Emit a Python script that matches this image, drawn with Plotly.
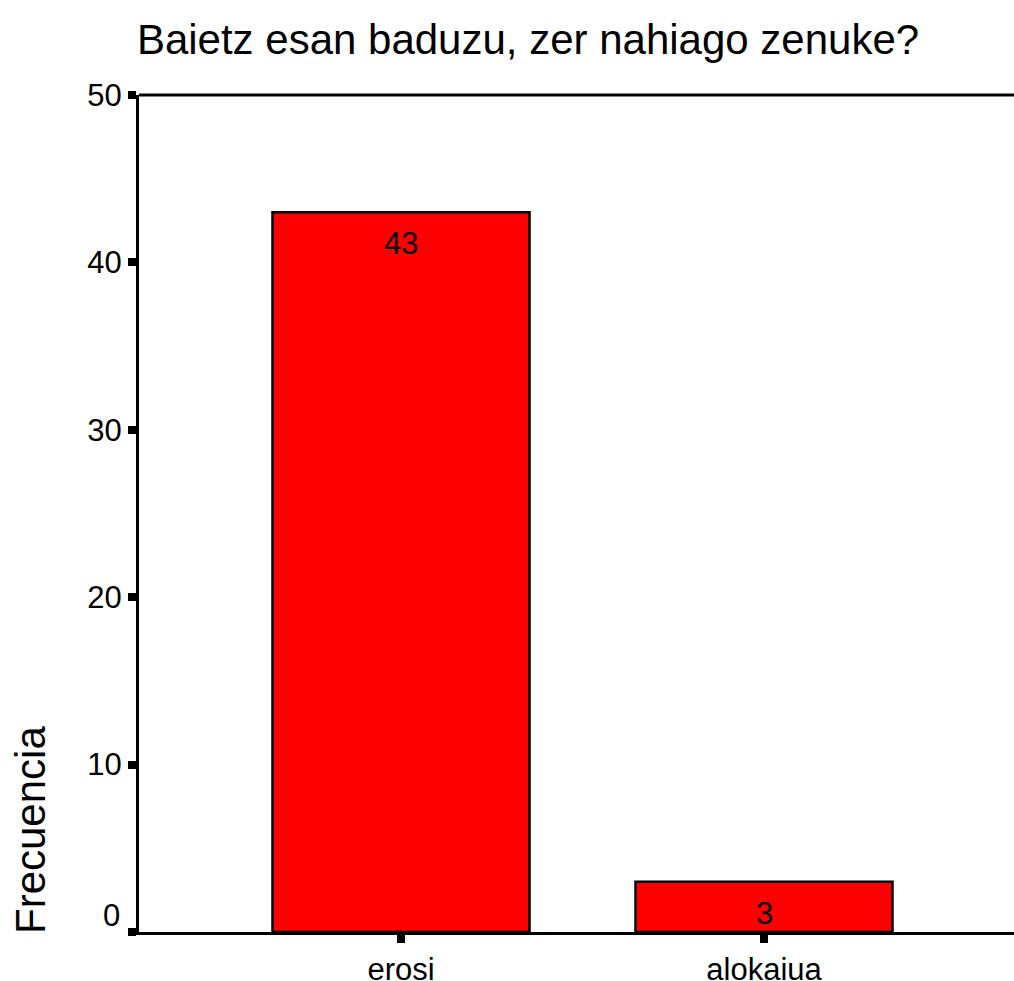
import plotly.graph_objects as go

categories = ["erosi", "alokaiua"]
values = [43, 3]
y_ticks = [0, 10, 20, 30, 40, 50]
title_text = "Baietz esan baduzu, zer nahiago zenuke?"
y_title = "Frecuencia"

FONT = "Liberation Sans, Arial, sans-serif"
W, H = 1014, 981
ML, MR, MT, MB = 139, 0, 95, 49

fig = go.Figure()
fig.add_trace(go.Bar(
    x=[0, 1], y=values, width=0.708,
    marker=dict(color="#FF0000", line=dict(color="black", width=2.5)),
    hoverinfo="skip",
))

annotations = []
for i, v in enumerate(values):
    annotations.append(dict(x=i, y=v, xref="x", yref="y", text=str(v), showarrow=False,
                            yanchor="top", yshift=-12,
                            font=dict(family=FONT, size=31, color="black")))
# zero label (offset upward as in original)
annotations.append(dict(x=0, y=0, xref="paper", yref="y", text="0", showarrow=False,
                        xanchor="right", yanchor="middle", xshift=-17, yshift=17,
                        font=dict(family=FONT, size=31, color="black")))
annotations.append(dict(x=0, y=0, xref="paper", yref="y", text=y_title, showarrow=False,
                        textangle=-90, xanchor="center", yanchor="bottom", xshift=-109, yshift=-4,
                        font=dict(family=FONT, size=42, color="black")))

fig.update_layout(
    width=W, height=H,
    margin=dict(l=ML, r=MR, t=MT, b=MB, autoexpand=False),
    paper_bgcolor="white", plot_bgcolor="white",
    showlegend=False,
    title=dict(text=title_text, x=528 / W, xanchor="center", xref="container",
               y=1 - 39 / H, yanchor="middle", yref="container",
               font=dict(family=FONT, size=42, color="black")),
    xaxis=dict(range=[-0.7218, 1.6887], tickmode="array", tickvals=[0, 1], ticktext=categories,
               showline=True, linecolor="black", linewidth=3, automargin=False,
               ticks="outside", ticklen=8, tickwidth=8, tickcolor="black",
               showgrid=False, zeroline=False,
               tickfont=dict(family=FONT, size=31, color="black")),
    yaxis=dict(range=[0, 50], tickmode="array", tickvals=y_ticks,
               ticktext=["" if t == 0 else str(t) for t in y_ticks],
               showline=True, linecolor="black", linewidth=3, automargin=False,
               ticks="outside", ticklen=8, tickwidth=8, tickcolor="black",
               showgrid=False, zeroline=False,
               tickfont=dict(family=FONT, size=31, color="black")),
    annotations=annotations,
    shapes=[dict(type="line", xref="paper", yref="paper", x0=0, x1=1, y0=1, y1=1,
                 line=dict(color="black", width=3))],
)

fig.write_html("out.html", config={"displayModeBar": False},
               post_script="document.body.style.margin='0';document.body.style.overflow='hidden';")
